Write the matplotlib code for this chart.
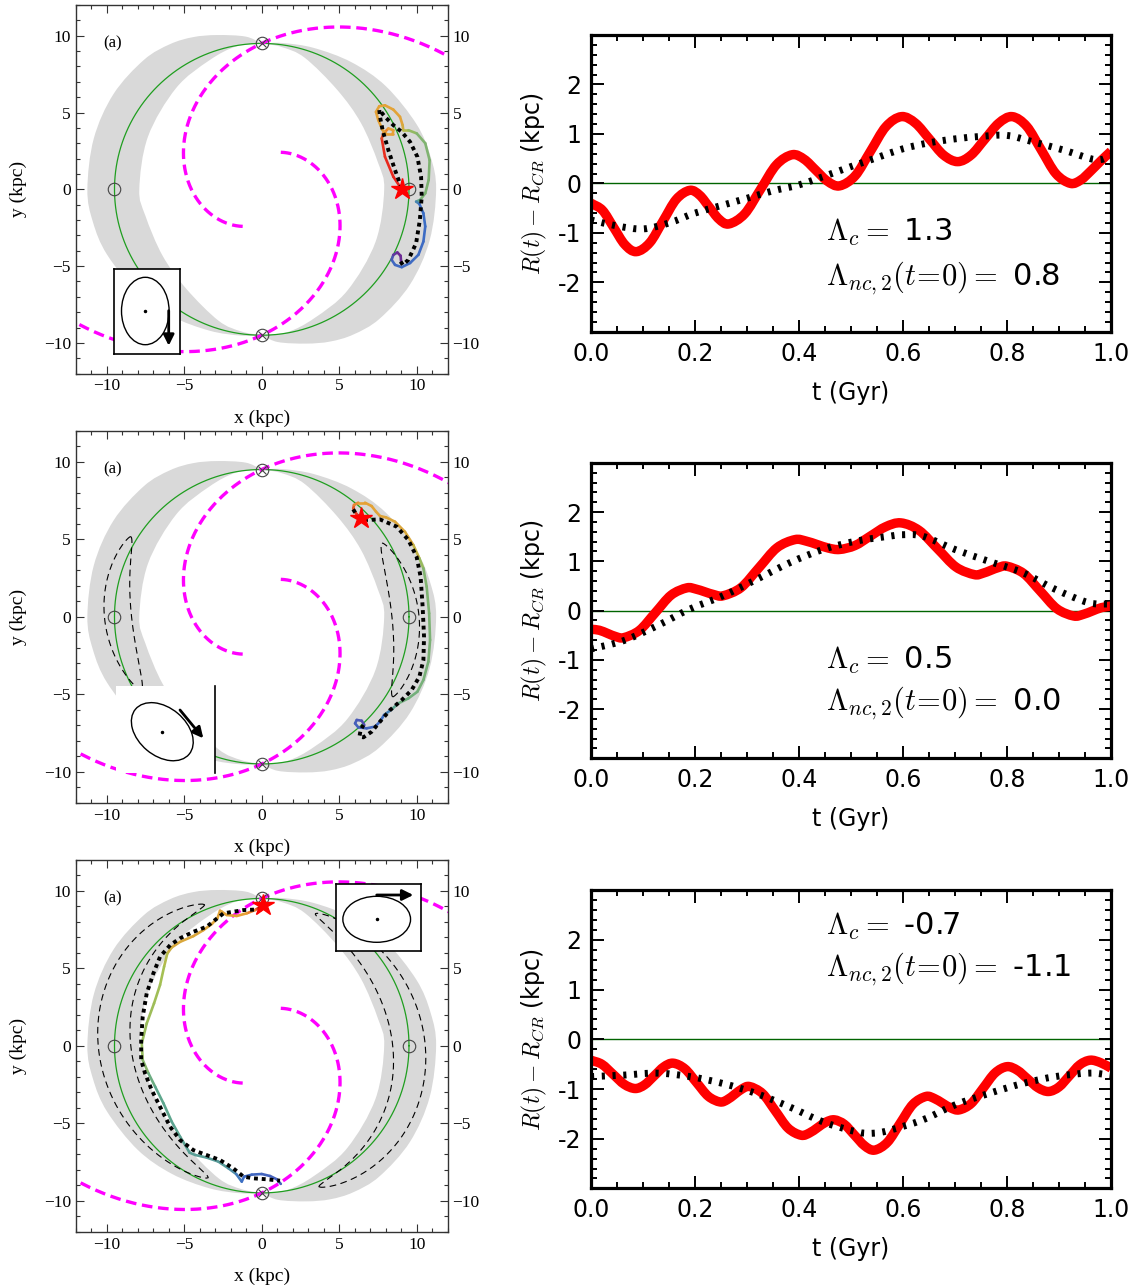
import matplotlib.pyplot as plt
import numpy as np
from matplotlib.collections import LineCollection
from matplotlib.colors import LinearSegmentedColormap
from matplotlib.patches import Ellipse, PathPatch
from matplotlib.path import Path
from matplotlib.ticker import MultipleLocator, FuncFormatter

plt.rcParams['mathtext.fontset'] = 'cm'
plt.rcParams['axes.unicode_minus'] = False

R_CR = 9.5  # corotation radius (kpc)

# ---------------- right panels: R(t) - R_CR ----------------
t1 = [0.0, 0.022, 0.0435, 0.065, 0.087, 0.113, 0.1385, 0.164, 0.19, 0.209, 0.2275, 0.246,
      0.265, 0.2955, 0.326, 0.3565, 0.387, 0.41, 0.4325, 0.455, 0.478, 0.508, 0.5375, 0.567,
      0.597, 0.624, 0.651, 0.678, 0.705, 0.731, 0.7575, 0.784, 0.81, 0.838, 0.866, 0.894,
      0.922, 0.942, 0.961, 0.98, 1.0]
r1 = [-0.40, -0.543, -0.89, -1.237, -1.38, -1.199, -0.76, -0.321, -0.14, -0.239, -0.48, -0.721,
      -0.82, -0.616, -0.12, 0.376, 0.58, 0.488, 0.265, 0.042, -0.05, 0.154, 0.65, 1.146,
      1.35, 1.217, 0.895, 0.573, 0.44, 0.573, 0.895, 1.217, 1.35, 1.153, 0.675, 0.197,
      0.0, 0.07, 0.25, 0.45, 0.65]
tg1 = [0.0, 0.05, 0.1, 0.15, 0.2, 0.25, 0.3, 0.35, 0.4, 0.45, 0.5, 0.55, 0.6, 0.65, 0.7,
       0.75, 0.8, 0.85, 0.91, 0.97, 1.0]
g1 = [-0.74, -0.86, -0.92, -0.8, -0.6, -0.45, -0.3, -0.15, -0.03, 0.15, 0.34, 0.52, 0.7,
      0.82, 0.9, 0.95, 0.97, 0.84, 0.67, 0.48, 0.55]

t2 = [0.0, 0.016, 0.032, 0.048, 0.063, 0.093, 0.1235, 0.154, 0.184, 0.2015, 0.219, 0.2365,
      0.254, 0.2885, 0.323, 0.3575, 0.392, 0.4135, 0.435, 0.4565, 0.478, 0.5075, 0.537, 0.5665,
      0.596, 0.631, 0.6665, 0.702, 0.737, 0.753, 0.7685, 0.784, 0.80, 0.832, 0.864, 0.896,
      0.928, 0.946, 0.964, 0.982, 1.0]
r2 = [-0.38, -0.40, -0.465, -0.53, -0.55, -0.403, -0.045, 0.313, 0.46, 0.437, 0.38, 0.323,
      0.30, 0.466, 0.87, 1.274, 1.44, 1.411, 1.34, 1.269, 1.24, 1.319, 1.51, 1.701,
      1.78, 1.627, 1.255, 0.883, 0.73, 0.755, 0.815, 0.875, 0.90, 0.753, 0.395, 0.037,
      -0.11, -0.08, -0.01, 0.06, 0.09]
tg2 = [0.0, 0.063, 0.127, 0.19, 0.254, 0.318, 0.382, 0.446, 0.51, 0.574, 0.6, 0.638, 0.7,
       0.765, 0.83, 0.893, 0.957, 1.0]
g2 = [-0.78, -0.61, -0.31, 0.03, 0.3, 0.63, 0.97, 1.24, 1.41, 1.51, 1.54, 1.51, 1.24,
      1.0, 0.77, 0.43, 0.16, 0.13]

t3 = [0.0, 0.021, 0.0425, 0.064, 0.085, 0.103, 0.1215, 0.14, 0.158, 0.1805, 0.203, 0.2255,
      0.248, 0.262, 0.2765, 0.291, 0.305, 0.33, 0.3545, 0.379, 0.404, 0.42, 0.436, 0.452,
      0.468, 0.487, 0.5065, 0.526, 0.545, 0.57, 0.5945, 0.619, 0.644, 0.66, 0.676, 0.692,
      0.708, 0.731, 0.754, 0.777, 0.80, 0.82, 0.84, 0.86, 0.88, 0.90, 0.92, 0.94, 0.96,
      0.98, 1.0]
r3 = [-0.42, -0.503, -0.705, -0.907, -0.99, -0.916, -0.735, -0.554, -0.48, -0.594, -0.87, -1.146,
      -1.26, -1.215, -1.105, -0.995, -0.95, -1.093, -1.44, -1.787, -1.93, -1.885, -1.775, -1.665,
      -1.62, -1.709, -1.925, -2.141, -2.23, -2.072, -1.69, -1.308, -1.15, -1.189, -1.285, -1.381,
      -1.42, -1.293, -0.985, -0.677, -0.55, -0.623, -0.80, -0.977, -1.05, -0.958, -0.735, -0.512,
      -0.42, -0.47, -0.58]
tg3 = [0.0, 0.063, 0.127, 0.19, 0.254, 0.318, 0.382, 0.446, 0.51, 0.542, 0.574, 0.638, 0.7,
       0.765, 0.83, 0.893, 0.957, 1.0]
g3 = [-0.75, -0.72, -0.68, -0.75, -0.89, -1.09, -1.36, -1.66, -1.86, -1.89, -1.83, -1.62,
      -1.32, -1.09, -0.89, -0.75, -0.68, -0.72]

lam_c = ['1.3', '0.5', '-0.7']
lam_nc = ['0.8', '0.0', '-1.1']

# ---------------- left panels: orbits in the x-y plane ----------------
ox1 = [9.03, 8.49, 7.95, 7.74, 7.85, 8.17, 8.49, 8.45, 8.06, 7.8, 7.52, 7.37, 7.58, 7.95,
       8.49, 8.92, 9.09, 9.13, 9.46, 10.0, 10.55, 10.83, 10.77, 10.55, 10.22, 9.96, 10.17,
       10.43, 10.55, 10.43, 10.11, 9.57, 9.03, 8.6, 8.38, 8.49, 8.75, 8.96, 8.99]
oy1 = [0.0, 0.82, 2.12, 3.31, 3.64, 3.96, 3.85, 3.59, 3.59, 3.85, 4.5, 5.04, 5.41, 5.47,
       5.19, 4.72, 4.18, 3.85, 3.85, 3.64, 3.0, 1.9, 0.61, -0.26, -0.69, -0.8, -0.95,
       -1.56, -2.42, -3.4, -4.26, -4.8, -5.07, -4.92, -4.59, -4.27, -4.11, -4.33, -4.7]
gx1 = [9.03, 8.6, 8.17, 7.8, 7.63, 7.58, 7.95, 8.49, 9.03, 9.57, 10.04, 10.28, 10.32, 10.2,
       9.96, 9.46, 9.1, 8.88]
gy1 = [0.06, 1.25, 2.55, 3.85, 4.72, 5.19, 4.72, 4.18, 3.74, 3.09, 2.12, 0.82, -0.48, -2.0,
       -3.51, -4.59, -4.92, -4.59]

ox2 = [6.39, 6.08, 5.91, 5.95, 6.23, 6.66, 7.09, 7.37, 7.63, 8.02, 8.6, 9.24, 9.78, 10.17,
       10.43, 10.64, 10.8, 10.86, 10.75, 10.43, 10.04, 9.46, 8.81, 8.38, 7.89, 7.63, 7.31,
       6.77, 6.23, 6.02, 6.13, 6.45, 6.62]
oy2 = [6.35, 6.67, 6.99, 7.21, 7.36, 7.36, 7.14, 6.78, 6.5, 6.41, 6.13, 5.48, 4.63, 3.77,
       3.12, 1.94, 0.22, -1.5, -2.9, -4.08, -4.84, -5.27, -5.59, -5.98, -6.34, -6.77, -7.09,
       -7.2, -7.14, -6.88, -6.66, -6.71, -6.99]
gx2 = [5.9, 6.16, 6.66, 7.63, 8.71, 9.46, 9.99, 10.25, 10.38, 10.47, 10.43, 10.17, 9.67,
       9.03, 8.28, 7.63, 7.09, 6.56, 6.3, 6.38, 6.56]
gy2 = [6.93, 6.5, 6.24, 6.28, 5.81, 4.95, 3.87, 2.58, 0.65, -1.29, -2.8, -3.87, -4.73,
       -5.38, -6.02, -6.77, -7.42, -7.78, -7.74, -7.31, -6.99]

ox3 = [0.06, -0.43, -0.97, -1.61, -2.26, -2.58, -2.69, -2.86, -3.22, -3.76, -4.41, -5.27,
       -5.81, -6.09, -6.3, -6.56, -6.95, -7.42, -7.74, -7.68, -7.31, -6.88, -6.34, -5.81,
       -5.27, -4.88, -4.66, -4.3, -3.55, -2.8, -2.15, -1.65, -1.29, -1.14, -0.64, 0.0, 0.54,
       0.97, 1.23]
oy3 = [9.08, 8.75, 8.54, 8.37, 8.43, 8.65, 8.71, 8.22, 7.85, 7.46, 7.07, 6.7, 6.34, 5.96,
       5.1, 3.92, 2.73, 1.44, 0.15, -0.92, -1.78, -2.64, -3.72, -4.9, -5.87, -6.51, -6.9,
       -7.05, -7.22, -7.48, -7.91, -8.28, -8.77, -8.45, -8.32, -8.28, -8.41, -8.62, -8.92]
gx3 = [0.0, -1.18, -2.47, -3.01, -3.55, -4.41, -5.27, -5.91, -6.56, -6.99, -7.42, -7.68,
       -7.78, -7.78, -7.53, -7.1, -6.56, -5.91, -5.27, -4.41, -3.55, -2.69, -1.83, -1.18,
       -0.54, 0.32, 1.18]
gy3 = [8.8, 8.75, 8.54, 8.11, 7.68, 7.35, 6.93, 6.49, 5.74, 4.67, 3.38, 1.87, 0.37, -0.92,
       -1.78, -2.86, -3.94, -5.23, -6.09, -6.74, -7.06, -7.38, -7.92, -8.45, -8.56, -8.62,
       -8.71]

stars = [(9.03, 0.0), (6.39, 6.35), (0.05, 9.05)]

# shaded band, left crescent (the right one is the same turned by 180 deg)
band_phi_out = [90, 96, 106, 114, 122, 132, 147, 163, 180, 191, 203, 220, 235, 250, 262, 270]
band_r_out = [9.5, 10.0, 10.45, 10.85, 11.15, 11.35, 11.4, 11.33, 11.25, 11.1, 10.85, 10.45,
              10.1, 9.8, 9.62, 9.5]
band_phi_in = [90, 100, 112, 130, 155, 180, 193, 214, 233, 252, 262, 270]
band_r_in = [9.5, 9.45, 9.05, 8.6, 8.1, 7.9, 7.7, 7.72, 8.1, 9.0, 9.35, 9.5]

# where the colour changes along each orbit (point index -> colour phase)
knots = [([0, 3, 5, 16, 19, 24, 26, 34, 36, 38], [0, 0.02, 0.2, 0.22, 0.5, 0.52, 0.8, 0.82, 1.0, 1.0]),
         ([0, 2, 4, 12, 14, 22, 24, 30, 32], [0, 0.05, 0.2, 0.25, 0.5, 0.55, 0.8, 0.85, 0.9]),
         ([0, 2, 12, 14, 19, 21, 30, 32, 38], [0, 0.2, 0.25, 0.4, 0.45, 0.6, 0.65, 0.8, 0.85])]

cmap = LinearSegmentedColormap.from_list(
    'orb', ['#e8231c', '#e8a035', '#a6c052', '#5fa88c', '#3b6fc6', '#6c2a94'])


def bez(p):
    # Catmull-Rom through the points, written as cubic Bezier pieces
    p = np.asarray(p, float)
    ext = np.vstack([2 * p[0] - p[1], p, 2 * p[-1] - p[-2]])
    out = []
    for i in range(len(p) - 1):
        a, b, c, d = ext[i:i + 4]
        out += [b + (c - a) / 6, c - (d - b) / 6, c]
    return out


def smooth(x, y):
    p = np.column_stack([x, y])
    verts = [p[0]] + bez(p)
    return Path(verts, [Path.MOVETO] + [Path.CURVE4] * (len(verts) - 1))


def polar_pts(phi_deg, r, sgn):
    ph = np.radians(phi_deg)
    return np.column_stack([sgn * np.array(r) * np.cos(ph), sgn * np.array(r) * np.sin(ph)])


W, H = 1139, 1287
fig = plt.figure(figsize=(W / 100, H / 100), dpi=100)

left_pos = [[0.0665, 0.7097, 0.3266, 0.2864],
            [0.0665, 0.3763, 0.3266, 0.2890],
            [0.0665, 0.0430, 0.3266, 0.2890]]
right_pos = [[0.5189, 0.7422, 0.4565, 0.2306],
             [0.5189, 0.4108, 0.4565, 0.2296],
             [0.5189, 0.0766, 0.4565, 0.2317]]

orbits = [(ox1, oy1, gx1, gy1), (ox2, oy2, gx2, gy2), (ox3, oy3, gx3, gy3)]
lenses = [None, (np.radians(31.5), 1.1, 0.65), (np.radians(68), 1.05, 1.05)]

# inset boxes in pixels: left, top, width, height
insets = [(114.3, 269.3, 65.7, 84.7), (116, 686, 99.3, 87.3), (336, 884, 84.7, 66.7)]
inset_ell = [((31, 43), 47.6, 67.4, 0), ((46.3, 41.6), 70, 48, -40), ((40.7, 31.4), 67.7, 46, 0)]
inset_arr = [((54.4, 43.3), (54.4, 8.3)), ((64, 63.3), (87.3, 35)), ((40.7, 55.7), (77.3, 55.7))]

minus_fmt = FuncFormatter(lambda v, p: ('%d' % v).replace('-', '\u2212'))
serif = 'Liberation Serif'

for k in range(3):
    ax = fig.add_axes(left_pos[k])
    ax.set_xlim(-12, 12)
    ax.set_ylim(-12, 12)

    # allowed band around corotation
    for sgn in (1, -1):
        po = polar_pts(band_phi_out, band_r_out, sgn)
        pi = polar_pts(band_phi_in, band_r_in, sgn)[::-1]
        verts = [po[0]] + bez(po) + [pi[0]] + bez(pi) + [po[0]]
        codes = ([Path.MOVETO] + [Path.CURVE4] * (3 * (len(po) - 1)) + [Path.LINETO]
                 + [Path.CURVE4] * (3 * (len(pi) - 1)) + [Path.CLOSEPOLY])
        ax.add_patch(PathPatch(Path(verts, codes), fc='#d9d9d9', ec='none', zorder=0))

    # corotation circle
    phi = np.linspace(0, 2 * np.pi, 721)
    ax.plot(R_CR * np.cos(phi), R_CR * np.sin(phi), color='#1f9e1f', lw=0.9, zorder=2)

    # spiral arms
    ph = np.radians(np.linspace(243, -15, 400))
    rs = R_CR * np.exp(-0.47 * (ph - np.pi / 2))
    for sgn in (1, -1):
        ax.plot(sgn * rs * np.cos(ph), sgn * rs * np.sin(ph), color='#ff00ff', lw=2.4,
                dashes=(3.2, 1.7), zorder=2)

    if lenses[k] is not None:
        half, h_in, h_out = lenses[k]
        u = np.linspace(-1, 1, 200)
        s = np.cos(np.pi / 2 * u) ** 0.62
        for phi0 in (0, np.pi):
            pl = phi0 + u * half
            cl = -0.45 * np.sin(2 * pl)
            for rr in (R_CR + cl - h_in * s, R_CR + cl + h_out * s):
                ax.plot(rr * np.cos(pl), rr * np.sin(pl), color='k', lw=0.8,
                        dashes=(6, 4), zorder=2)

    # Lagrange-point markers
    ax.plot([0, 0], [R_CR, -R_CR], 'o', mfc='none', mec='#444444', ms=9, mew=0.8, zorder=3)
    ax.plot([0, 0], [R_CR, -R_CR], 'x', color='#444444', ms=6, mew=0.8, zorder=3)
    ax.plot([R_CR, -R_CR], [0, 0], 'o', mfc='none', mec='#444444', ms=9, mew=0.8, zorder=3)

    # orbit coloured by time
    x, y, gx, gy = orbits[k]
    pts = np.column_stack([x, y])
    segs = np.stack([pts[:-1], pts[1:]], axis=1)
    ki, kp = knots[k]
    phase = np.interp(np.arange(len(x) - 1) + 0.5, ki, kp)
    lc = LineCollection(segs, colors=cmap(phase), lw=1.9, capstyle='round',
                        joinstyle='round', zorder=4)
    ax.add_collection(lc)
    ax.plot(gx, gy, color='k', lw=2.8, linestyle=(0, (1, 1)), zorder=5)
    ax.plot(*stars[k], marker='*', color='red', ms=16, zorder=6)

    ax.text(-9.6, 9.5, '(a)', fontsize=12, family=serif, ha='center', va='center')

    ax.set_xticks([-10, -5, 0, 5, 10])
    ax.set_yticks([-10, -5, 0, 5, 10])
    ax.xaxis.set_minor_locator(MultipleLocator(1))
    ax.yaxis.set_minor_locator(MultipleLocator(1))
    ax.xaxis.set_major_formatter(minus_fmt)
    ax.yaxis.set_major_formatter(minus_fmt)
    ax.tick_params(which='both', direction='in', top=True, right=True, labelright=True,
                   labelsize=12.5, width=0.8, color='#333333')
    ax.tick_params(which='major', length=6)
    ax.tick_params(which='minor', length=3)
    for lbl in ax.get_xticklabels() + ax.get_yticklabels():
        lbl.set_fontfamily(serif)
    for sp in ax.spines.values():
        sp.set_linewidth(1.0)
        sp.set_color('#333333')
    ax.set_xlabel('x (kpc)', fontsize=14, family=serif, labelpad=11)
    ax.set_ylabel('y (kpc)', fontsize=14, family=serif, labelpad=12)

    # inset with the epicycle sketch
    il, it, iw, ih = insets[k]
    iax = fig.add_axes([il / W, 1 - (it + ih) / H, iw / W, ih / H])
    iax.set_xlim(0, iw)
    iax.set_ylim(0, ih)
    iax.set_xticks([])
    iax.set_yticks([])
    iax.set_zorder(10)
    if k == 1:
        for side in ('top', 'left', 'bottom'):
            iax.spines[side].set_visible(False)
    for sp in iax.spines.values():
        sp.set_linewidth(1.2)
    (cx, cy), ew, eh, ang = inset_ell[k]
    iax.add_patch(Ellipse((cx, cy), ew, eh, angle=ang, fill=False, lw=1.0, color='k'))
    iax.plot(cx, cy, 'k.', ms=3)
    a0, a1 = inset_arr[k]
    iax.annotate('', xy=a1, xytext=a0,
                 arrowprops=dict(arrowstyle='-|>', color='k', lw=2, mutation_scale=16,
                                 shrinkA=0, shrinkB=0))

# ---------------- right panels ----------------
red_t = [t1, t2, t3]
red_r = [r1, r2, r3]
gc_t = [tg1, tg2, tg3]
gc_r = [g1, g2, g3]
txt_y = [(-1.0, -1.93), (-1.02, -1.89), (2.27, 1.40)]

for k in range(3):
    ax = fig.add_axes(right_pos[k])
    ax.axhline(0, color='#006400', lw=1.0, zorder=1)
    ax.add_patch(PathPatch(smooth(red_t[k], red_r[k]), fill=False, ec='red', lw=6.8,
                           joinstyle='round', zorder=2))
    ax.add_patch(PathPatch(smooth(gc_t[k], gc_r[k]), fill=False, ec='k', lw=5,
                           linestyle=(0, (0.45, 1.1)), zorder=3))
    ax.set_xlim(0, 1)
    ax.set_ylim(-3, 3)
    ax.set_xticks([0.0, 0.2, 0.4, 0.6, 0.8, 1.0])
    ax.set_yticks([-2, -1, 0, 1, 2])
    ax.xaxis.set_minor_locator(MultipleLocator(0.05))
    ax.yaxis.set_minor_locator(MultipleLocator(0.2))
    ax.tick_params(which='both', direction='in', top=True, right=True, labelsize=17, width=1.4)
    ax.tick_params(which='major', length=9, pad=7)
    ax.tick_params(which='minor', length=4.5)
    for sp in ax.spines.values():
        sp.set_linewidth(2.3)
    ax.set_xlabel('t (Gyr)', fontsize=17, labelpad=11)
    ax.set_ylabel(r'$R(t) - R_{CR}$ (kpc)', fontsize=17, labelpad=6)
    y_a, y_b = txt_y[k]
    ax.text(0.452, y_a, r'$\Lambda_c =$ ' + lam_c[k], fontsize=22, va='center')
    ax.text(0.452, y_b, r'$\Lambda_{nc,2}(t\!=\!0) =$ ' + lam_nc[k], fontsize=22, va='center')

fig.savefig('out.png', dpi=100)
